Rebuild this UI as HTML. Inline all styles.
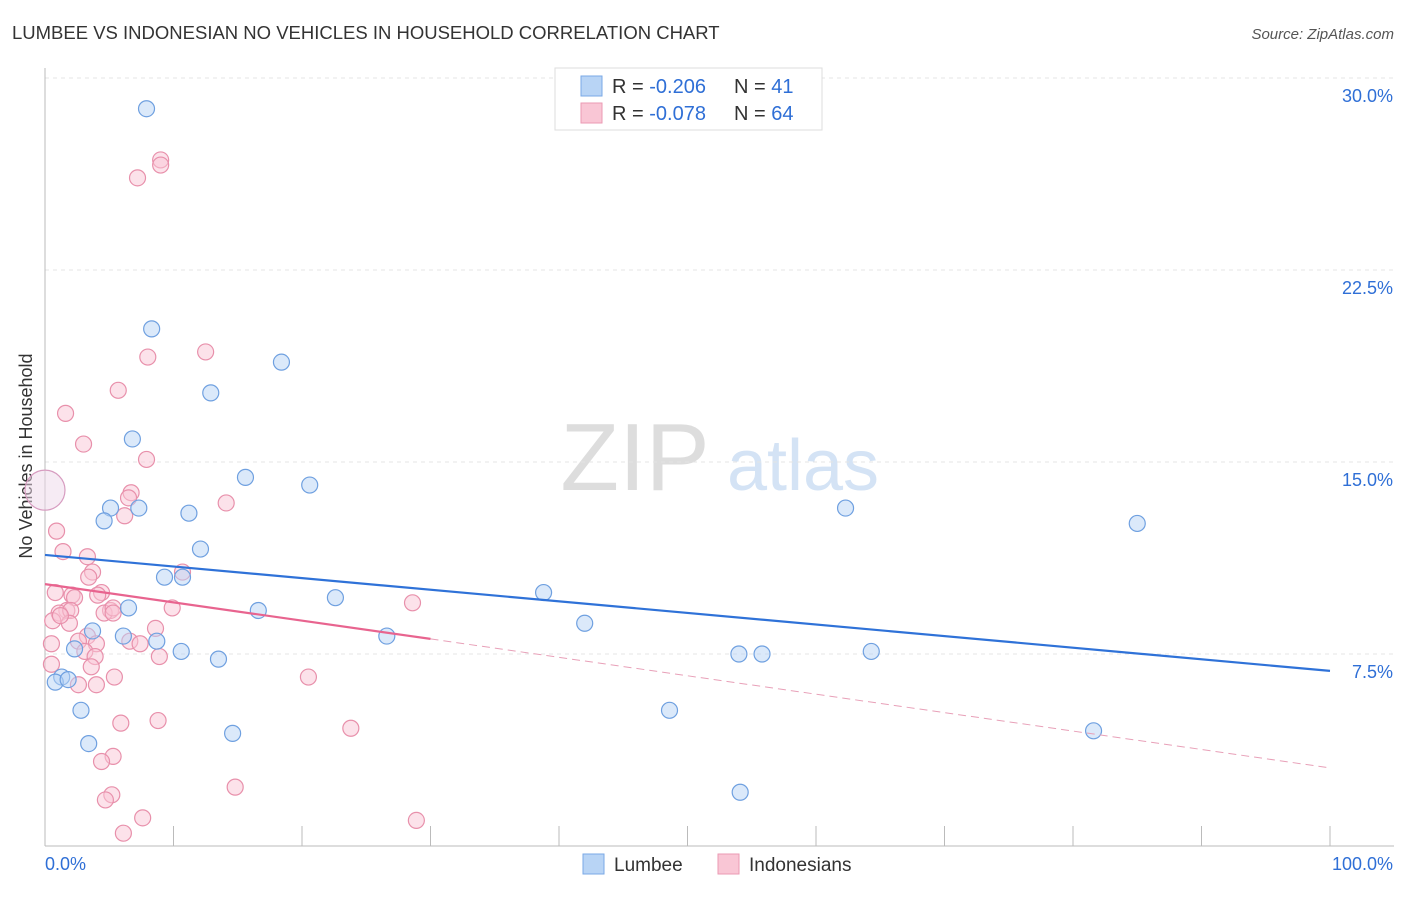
<!DOCTYPE html>
<html><head><meta charset="utf-8"><style>
body{margin:0;background:#fff;font-family:"Liberation Sans",sans-serif;}
svg text{font-family:"Liberation Sans",sans-serif;}
</style></head><body>
<svg id="chart" width="1406" height="892">
<text x="12" y="39" font-size="18.5" fill="#333">LUMBEE VS INDONESIAN NO VEHICLES IN HOUSEHOLD CORRELATION CHART</text>
<text x="1394" y="39" font-size="15" fill="#555" text-anchor="end" font-style="italic">Source: ZipAtlas.com</text>
<text x="32" y="456" font-size="18" fill="#333" text-anchor="middle" transform="rotate(-90 32 456)">No Vehicles in Household</text>
<g><text x="635" y="490" font-size="96" fill="#ddd" text-anchor="middle" font-family="Liberation Serif">ZIP</text><text x="803" y="490" font-size="72" fill="#d4e3f5" text-anchor="middle">atlas</text></g>
<g id="grid"></g><g id="axes"></g><g id="marks"></g>
<g>
<rect x="555" y="68" width="267" height="62" fill="#fff" stroke="#ddd"/>
<rect x="581" y="76" width="21" height="20" fill="#b8d4f5" stroke="#7aa8e6"/>
<rect x="581" y="103" width="21" height="20" fill="#f9c6d5" stroke="#eb9ab3"/>
<text x="612" y="93" font-size="20" fill="#333">R = <tspan fill="#2f6fd6">-0.206</tspan></text>
<text x="734" y="93" font-size="20" fill="#333">N = <tspan fill="#2f6fd6"> 41</tspan></text>
<text x="612" y="120" font-size="20" fill="#333">R = <tspan fill="#2f6fd6">-0.078</tspan></text>
<text x="734" y="120" font-size="20" fill="#333">N = <tspan fill="#2f6fd6">64</tspan></text>
</g>
<g>
<rect x="583" y="854" width="21" height="20" fill="#b8d4f5" stroke="#7aa8e6"/>
<text x="614" y="871" font-size="19" fill="#333">Lumbee</text>
<rect x="718" y="854" width="21" height="20" fill="#f9c6d5" stroke="#eb9ab3"/>
<text x="749" y="871" font-size="19" fill="#333">Indonesians</text>
</g>
</svg>
<script>
const yTicks=[7.5,15,22.5,30];
const yTickLabels=["7.5%","15.0%","22.5%","30.0%"];
const xTicks=[0,10,20,30,40,50,60,70,80,90,100];
const blueX=[7.9,8.3,18.4,12.9,6.8,15.6,20.6,5.1,7.3,4.6,11.2,12.1,9.3,10.7,22.6,16.6,6.5,3.7,6.1,8.7,26.6,2.3,10.6,13.5,38.8,42.0,62.3,85.0,54.0,55.8,64.3,1.3,0.8,1.8,2.8,3.4,14.6,48.6,81.6,54.1];
const blueY=[28.8,20.2,18.9,17.7,15.9,14.4,14.1,13.2,13.2,12.7,13.0,11.6,10.5,10.5,9.7,9.2,9.3,8.4,8.2,8.0,8.2,7.7,7.6,7.3,9.9,8.7,13.2,12.6,7.5,7.5,7.6,6.6,6.4,6.5,5.3,4.0,4.4,5.3,4.5,2.1];
const pinkX=[9.0,9.0,7.2,12.5,8.0,5.7,1.6,3.0,7.9,14.1,6.7,6.5,6.2,0.9,1.4,3.3,3.7,3.4,10.7,4.4,4.1,0.8,2.1,2.3,1.7,1.1,2.0,5.1,4.6,5.3,9.9,28.6,0.6,1.9,8.6,3.3,4.0,6.6,2.6,7.4,0.5,3.1,3.9,8.9,0.5,3.6,5.4,4.0,2.6,20.5,5.9,8.8,23.8,5.3,4.4,14.8,5.2,4.7,7.6,28.9,6.1,5.3,1.2];
const pinkY=[26.8,26.6,26.1,19.3,19.1,17.8,16.9,15.7,15.1,13.4,13.8,13.6,12.9,12.3,11.5,11.3,10.7,10.5,10.7,9.9,9.8,9.9,9.8,9.7,9.2,9.1,9.2,9.2,9.1,9.3,9.3,9.5,8.8,8.7,8.5,8.2,7.9,8.0,8.0,7.9,7.9,7.6,7.4,7.4,7.1,7.0,6.6,6.3,6.3,6.6,4.8,4.9,4.6,3.5,3.3,2.3,2.0,1.8,1.1,1.0,0.5,9.1,9.0];
const bigPoint=[0,13.9];
const blueTrend=[[0,11.37],[100,6.84]];
const pinkTrend=[[0,10.23],[30,8.09],[100,3.05]];
const X=v=>45+v*12.85, Y=v=>846-v*25.6;
const NS="http://www.w3.org/2000/svg";
function mk(p,t,a){const e=document.createElementNS(NS,t);for(const k in a)e.setAttribute(k,a[k]);p.appendChild(e);return e;}
const grid=document.getElementById('grid'),axes=document.getElementById('axes'),marks=document.getElementById('marks');
yTicks.forEach((t,i)=>{
 const l=mk(grid,'line',{x1:45,x2:1394,y1:Y(t),y2:Y(t),stroke:'#e4e4e4','stroke-dasharray':'4,4'});
 
 
 const tx=mk(axes,'text',{x:1393,y:Y(t)+24,'font-size':18,fill:'#2f6fd6','text-anchor':'end'});
 tx.textContent=yTickLabels[i];
 
 
});
const ax=mk(axes,'line',{x1:45,x2:45,y1:68,y2:846,stroke:'#bbb'});


const bx=mk(axes,'line',{x1:45,x2:1394,y1:846,y2:846,stroke:'#bbb'});


xTicks.forEach(t=>{const l=mk(axes,'line',{x1:X(t),x2:X(t),y1:826,y2:846,stroke:'#bbb'});
 
 });
const x0=mk(axes,'text',{x:45,y:870,'font-size':18,fill:'#2f6fd6'});x0.textContent='0.0%';


const x1=mk(axes,'text',{x:1393,y:870,'font-size':18,fill:'#2f6fd6','text-anchor':'end'});x1.textContent='100.0%';


function pt(x,y,r,f,s,name){const c=mk(marks,'circle',{cx:X(x),cy:Y(y),r:r,fill:f,'fill-opacity':0.5,stroke:s,'stroke-width':1.2});
 
 }
pinkX.forEach((x,i)=>pt(x,pinkY[i],8,'#f9c6d5','#e890ab','indonesians-point'));
blueX.forEach((x,i)=>pt(x,blueY[i],8,'#b8d4f5','#6fa0e0','lumbee-point'));
pt(bigPoint[0],bigPoint[1],20,'#eed8ea','#d79cc0','large-overlap-point');
const bl=mk(marks,'line',{x1:X(blueTrend[0][0]),y1:Y(blueTrend[0][1]),x2:X(blueTrend[1][0]),y2:Y(blueTrend[1][1]),stroke:'#2f72d8','stroke-width':2.2});


const pl=mk(marks,'line',{x1:X(pinkTrend[0][0]),y1:Y(pinkTrend[0][1]),x2:X(pinkTrend[1][0]),y2:Y(pinkTrend[1][1]),stroke:'#e8648f','stroke-width':2.2});


const pd=mk(marks,'line',{x1:X(pinkTrend[1][0]),y1:Y(pinkTrend[1][1]),x2:X(pinkTrend[2][0]),y2:Y(pinkTrend[2][1]),stroke:'#e8a0b8','stroke-width':1,'stroke-dasharray':'8,5'});


</script>
</body></html>
